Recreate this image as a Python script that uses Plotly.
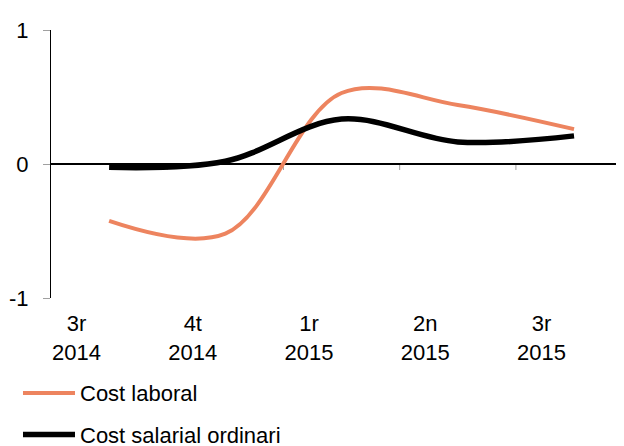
import plotly.graph_objects as go

categories = ["3r<br>2014", "4t<br>2014", "1r<br>2015", "2n<br>2015", "3r<br>2015"]
cost_laboral = [-0.425, -0.52, 0.53, 0.44, 0.26]
cost_salarial = [-0.025, 0.02, 0.335, 0.165, 0.21]
series_names = ["Cost laboral", "Cost salarial ordinari"]
y_ticks = [-1, 0, 1]
y_tick_labels = ["-1", "0", "1"]

xpos = list(range(len(categories)))
FONT = "Liberation Sans, Arial, sans-serif"
FS = 22

fig = go.Figure()
fig.add_trace(go.Scatter(
    x=xpos, y=cost_laboral, mode="lines", name=series_names[0],
    line=dict(color="#ED845F", width=4, shape="spline", smoothing=1.0),
    legendgroup="a"))
fig.add_trace(go.Scatter(
    x=xpos, y=cost_salarial, mode="lines", name=series_names[1],
    line=dict(color="#000000", width=5.5, shape="spline", smoothing=1.0),
    legendgroup="b"))

# small category boundary ticks on the zero line
for b in [0.5, 1.5, 2.5, 3.5]:
    fig.add_shape(type="line", xref="x", yref="y", x0=b, x1=b, y0=0, y1=-0.045,
                  line=dict(color="#A0A0A0", width=1), layer="below")

fig.update_layout(
    width=616, height=438,
    margin=dict(l=43, r=0, t=22, b=148, autoexpand=False),
    paper_bgcolor="white", plot_bgcolor="white",
    font=dict(family=FONT, size=FS, color="black"),
    showlegend=True,
    legend=dict(x=-0.0576, y=-0.2765, xanchor="left", yanchor="top",
                orientation="v", tracegroupgap=10, traceorder="grouped",
                itemwidth=52,
                font=dict(size=FS), bgcolor="rgba(0,0,0,0)"),
    xaxis=dict(range=[-0.5, 4.43], showgrid=False, zeroline=False, showline=False,
               tickmode="array", tickvals=[x - 0.28 for x in xpos], ticktext=categories,
               ticks="", tickfont=dict(size=FS), ticklabelstandoff=10, automargin=False),
    yaxis=dict(range=[-1, 1], showgrid=False, zeroline=True, zerolinecolor="black",
               zerolinewidth=1.5, showline=True, linecolor="black", linewidth=1,
               tickmode="array", tickvals=y_ticks, ticktext=y_tick_labels,
               ticks="outside", ticklen=7,
               tickcolor="#A0A0A0", tickfont=dict(size=FS), ticklabelstandoff=10,
               automargin=False),
)

fig.write_html("out.html")
